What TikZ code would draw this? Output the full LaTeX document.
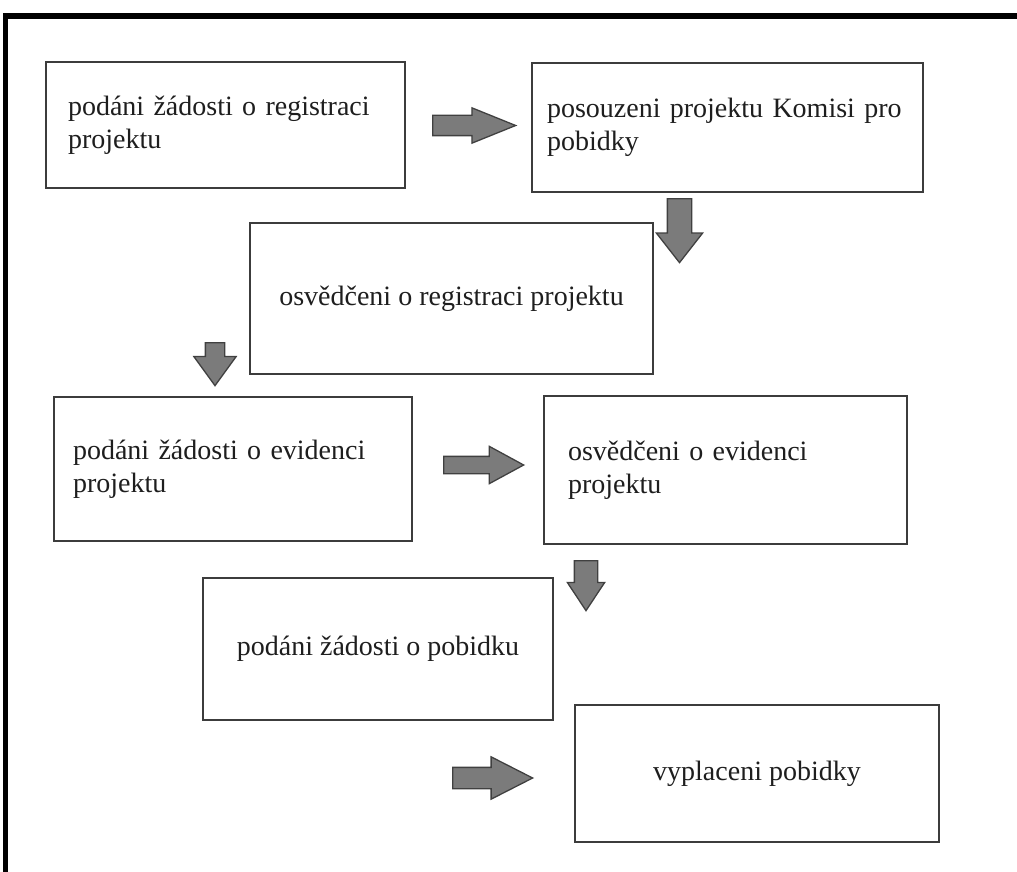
\documentclass[tikz,border=0pt]{standalone}
\usepackage{fontspec}
\setmainfont{Liberation Serif}
\usepackage{xcolor}
\usepackage{tikz}
\usetikzlibrary{shapes.arrows}

\definecolor{boxline}{HTML}{3C3C3C}
\definecolor{arrowfill}{HTML}{7B7B7B}
\definecolor{arrowline}{HTML}{404040}
\definecolor{textcol}{HTML}{1E1E1E}

\begin{document}
\begin{tikzpicture}[
  x=1pt, y=-1pt,
  every node/.style={font=\fontsize{28}{33}\selectfont},
  stepbox/.style={rectangle, draw=boxline, line width=1.6pt, fill=white,
    text=textcol},
  leftbox/.style={stepbox, align=left},
  midbox/.style={stepbox, align=center},
  blockarrow/.style={single arrow, draw=arrowline, fill=arrowfill,
    line width=1.3pt, anchor=tail},
  downarrow/.style={blockarrow, shape border rotate=270},
  frameline/.style={line width=5.5pt, black},
]
\useasboundingbox (0,0) rectangle (1017,872);

% ========= Frame (top and left edge) =========
\draw[frameline] (5.5,872) -- (5.5,16) -- (1017,16);

% ========= Row 1: registration request / commission =========
\node[leftbox, inner xsep=22pt, text width=315pt, minimum width=359pt,
      minimum height=126pt] at (225.5,125) (reg)
  {podáni žádosti o registraci\\projektu};
\node[leftbox, inner xsep=15pt, text width=361pt, minimum width=391pt,
      minimum height=129pt] at (727.5,127.5) (kom)
  {posouzeni projektu Komisi pro\\pobidky};

% ========= Row 2: registration certificate =========
\node[midbox, minimum width=403pt, minimum height=151pt] at (451.5,298.5) (osreg)
  {osvědčeni o registraci projektu};

% ========= Row 3: evidence request / certificate =========
\node[leftbox, inner xsep=19pt, text width=320pt, minimum width=358pt,
      minimum height=144pt] at (233,469) (evid)
  {podáni žádosti o evidenci\\projektu};
\node[leftbox, inner xsep=24pt, text width=315pt, minimum width=363pt,
      minimum height=148pt] at (725.5,470) (osevid)
  {osvědčeni o evidenci\\projektu};

% ========= Row 4: incentive request / payment =========
\node[midbox, minimum width=350pt, minimum height=142pt] at (378,649) (pob)
  {podáni žádosti o pobidku};
\node[midbox, minimum width=364pt, minimum height=137pt] at (757,773.5) (vypl)
  {vyplaceni pobidky};

% ========= Block arrows between the steps =========
\node[blockarrow, minimum height=83pt, inner sep=9.5pt,
      single arrow head extend=7.5pt, single arrow tip angle=44]
  at (432,125.5) (a1) {};
\node[downarrow, minimum height=64pt, inner sep=11.5pt,
      single arrow head extend=11pt, single arrow tip angle=76]
  at (679.5,198) (a2) {};
\node[downarrow, minimum height=43pt, inner sep=9pt,
      single arrow head extend=11.5pt, single arrow tip angle=72]
  at (215,342) (a3) {};
\node[blockarrow, minimum height=80pt, inner sep=8pt,
      single arrow head extend=10pt, single arrow tip angle=57]
  at (443,465) (a4) {};
\node[downarrow, minimum height=50pt, inner sep=11pt,
      single arrow head extend=7pt, single arrow tip angle=67]
  at (586,560) (a5) {};
\node[blockarrow, minimum height=80pt, inner sep=10pt,
      single arrow head extend=10.5pt, single arrow tip angle=54]
  at (452,778) (a6) {};

\end{tikzpicture}
\end{document}
